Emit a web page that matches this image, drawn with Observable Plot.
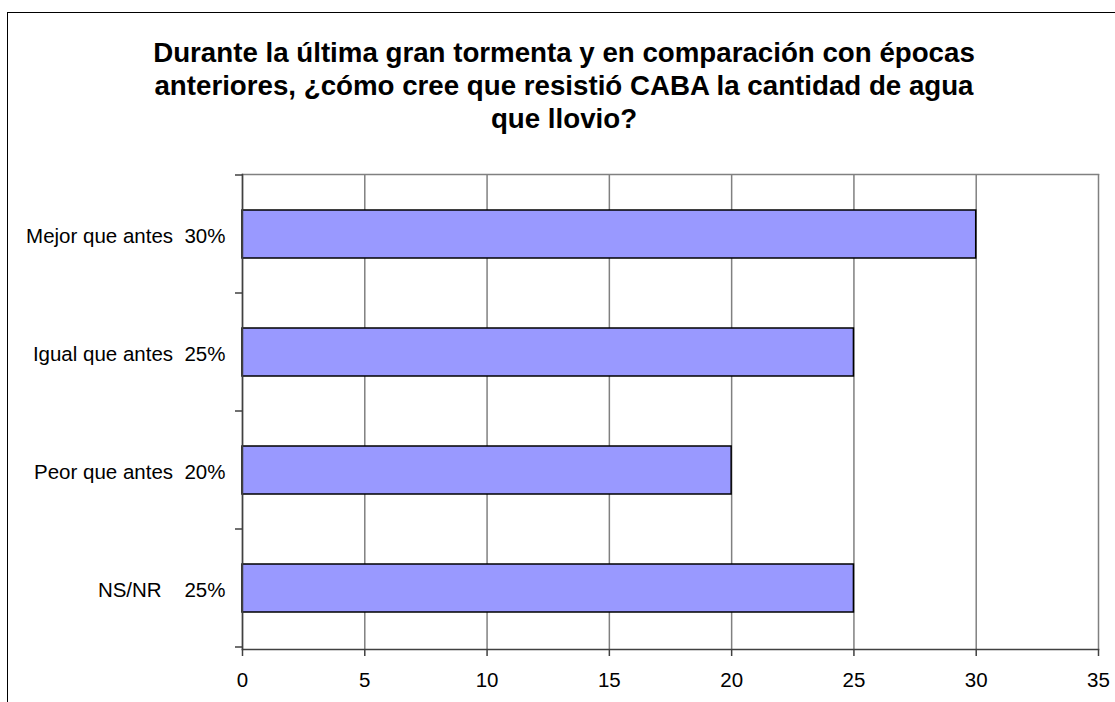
<!DOCTYPE html>
<html>
<head>
<meta charset="utf-8">
<script src="https://cdn.jsdelivr.net/npm/d3@7"></script>
<script src="https://cdn.jsdelivr.net/npm/@observablehq/plot@0.6"></script>
<style>
  html, body { margin: 0; padding: 0; background: #fff; }
  #page { position: relative; width: 1115px; height: 702px; overflow: hidden; background: #fff; }
  #frame { position: absolute; left: 7px; top: 12px; width: 1200px; height: 800px;
           border-left: 1.5px solid #000; border-top: 1.5px solid #000; box-sizing: border-box; }
  #title { position: absolute; left: 7px; top: 36px; width: 1114px; text-align: center;
           font-family: "Liberation Sans", Arial, sans-serif; font-weight: bold; font-size: 27.7px;
           line-height: 33px; color: #000; }
  #chart { position: absolute; left: 0; top: 140px; }
  #chart svg text { white-space: pre; }
</style>
</head>
<body>
<div id="page">
  <div id="frame"></div>
  <div id="title">Durante la última gran tormenta y en comparación con épocas<br>anteriores, ¿cómo cree que resistió CABA la cantidad de agua<br>que llovio?</div>
  <div id="chart"></div>
</div>
<script>
const categories = ["Mejor que antes  30%", "Igual que antes  25%", "Peor que antes  20%", "NS/NR    25%"];
const values = [30, 25, 20, 25];
const xTicks = [0, 5, 10, 15, 20, 25, 30, 35];

const data = categories.map((c, i) => ({cat: c, value: values[i]}));

const plot = Plot.plot({
  width: 1115,
  height: 562,
  marginTop: 34,
  marginBottom: 53,
  marginLeft: 242,
  marginRight: 17,
  style: {fontFamily: "'Liberation Sans', Arial, sans-serif", fontSize: "20.5px", color: "#000", background: "transparent", overflow: "visible"},
  x: {domain: [0, 35], ticks: xTicks},
  y: {domain: categories, paddingInner: 0.59, paddingOuter: 0.295, label: null},
  marks: [
    Plot.gridX(xTicks, {stroke: "#808080", strokeOpacity: 1, strokeWidth: 1.5}),
    Plot.frame({anchor: "top", stroke: "#808080", strokeWidth: 1.5}),
    Plot.barX(data, {x: "value", y: "cat", fill: "#9999FF", stroke: "#000", strokeWidth: 1.5}),
    Plot.frame({anchor: "left", stroke: "#404040", strokeWidth: 1.5}),
    Plot.frame({anchor: "bottom", stroke: "#404040", strokeWidth: 1.5}),
    Plot.axisX({ticks: xTicks, tickSize: 7, tickPadding: 16, label: null, stroke: "#404040", strokeWidth: 1.5, tickFormat: d => String(d)}),
    Plot.axisY({tickSize: 0, tickPadding: 17, label: null, dy: 2})
  ]
});

document.getElementById("chart").appendChild(plot);

// boundary tick marks between category bands on the left axis, from Plot's own y scale
const ys = plot.scale("y");
const xs = plot.scale("x");
const half = (ys.step - ys.bandwidth) / 2;
const bounds = categories.map(c => ys.apply(c) - half);
bounds.push(ys.apply(categories[categories.length - 1]) + ys.bandwidth + half);
const x0 = xs.apply(0);
d3.select(plot).append("g")
  .attr("stroke", "#404040")
  .attr("stroke-width", 1.5)
  .selectAll("line")
  .data(bounds)
  .join("line")
  .attr("x1", x0 - 7)
  .attr("x2", x0)
  .attr("y1", d => d)
  .attr("y2", d => d);
</script>
</body>
</html>
